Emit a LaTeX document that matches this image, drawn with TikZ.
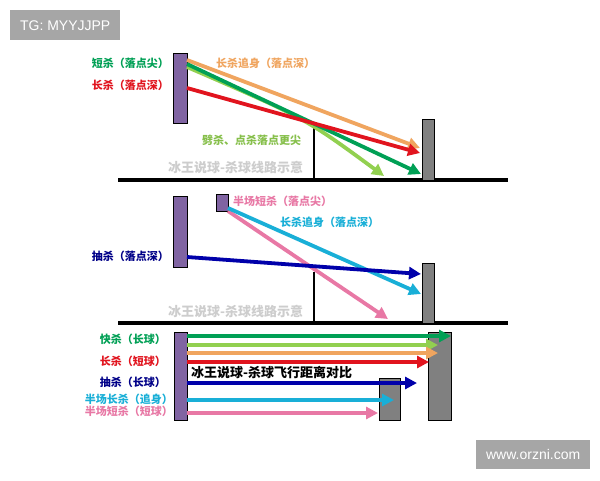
\documentclass[tikz,border=0pt]{standalone}
\usepackage{fontspec}
\newfontfamily\cjk{Noto Sans CJK SC}
\newfontfamily\latin{Liberation Sans}
\usetikzlibrary{arrows.meta}
\definecolor{barpurple}{RGB}{128,100,162}
\definecolor{wallgray}{RGB}{128,128,128}
\definecolor{dgreen}{RGB}{0,160,85}
\definecolor{lgreen}{RGB}{146,208,80}
\definecolor{orangec}{RGB}{240,165,95}
\definecolor{redc}{RGB}{225,20,30}
\definecolor{bluec}{RGB}{0,0,170}
\definecolor{cyanc}{RGB}{25,175,215}
\definecolor{pinkc}{RGB}{232,120,165}
\definecolor{boxgray}{RGB}{166,166,166}
\definecolor{wmgray}{RGB}{205,205,205}
\begin{document}
\begin{tikzpicture}[x=1pt,y=-1pt,
  bar/.style={draw=black,line width=1.2pt,fill=barpurple},
  wall/.style={draw=black,line width=1.2pt,fill=wallgray},
  floorline/.style={line width=3.5pt,black},
  netpost/.style={line width=2.5pt,black},
  shot/.style={line width=3.8pt,-{Triangle[length=12pt,width=12pt]}},
  lbl/.style={font=\cjk\bfseries\fontsize{11}{12}\selectfont,inner sep=0pt},
  wm/.style={font=\cjk\bfseries\fontsize{13}{14}\selectfont,text=wmgray,inner sep=0pt,anchor=west},
  tag/.style={fill=boxgray,text=white,font=\latin\fontsize{14}{15}\selectfont,inner sep=0pt,minimum height=30pt}
]
\useasboundingbox (0,0) rectangle (600,480);
\fill[white] (0,0) rectangle (600,480);

% tags
\node[tag,minimum width=110pt,anchor=north west] (tg) at (10,10) {TG: MYYJJPP};
\node[tag,minimum width=114pt,minimum height=29pt,anchor=north west] (web) at (476,440) {www.orzni.com};

% ---------------- top panel ----------------
\coordinate (f1a) at (118,180); \coordinate (f1b) at (508,180);
\draw[floorline] (f1a) -- (f1b);
\coordinate (n1t) at (314,128); \coordinate (n1b) at (314,180);
\draw[netpost] (n1t) -- (n1b);
\node[bar,minimum width=14pt,minimum height=70pt,inner sep=0pt,anchor=north west] (p1) at (173,53) {};
\node[wall,minimum width=12pt,minimum height=61pt,inner sep=0pt,anchor=north west] (w1) at (422,119) {};
\node[wm] (wm1) at (168,167) {冰王说球-杀球线路示意};

\coordinate (a1s) at (187,60);  \coordinate (a1e) at (420,148);
\coordinate (a2s) at (187,88);  \coordinate (a2e) at (420,153);
\coordinate (a3s) at (187,64);  \coordinate (a3e) at (421,174);
\coordinate (a4s) at (187,67);  \coordinate (a4e) at (384,176);
\draw[shot,orangec] (a1s) -- (a1e);
\draw[shot,lgreen] (a4s) .. controls (305,118) .. (a4e);
\draw[shot,dgreen] (a3s) -- (a3e);
\draw[shot,redc] (a2s) -- (a2e);

\node[lbl,text=dgreen,anchor=east] (l1) at (169,63) {短杀（落点尖）};
\node[lbl,text=redc,anchor=east] (l2) at (169,85) {长杀（落点深）};
\node[lbl,text=orangec,anchor=west] (l3) at (216,63) {长杀追身（落点深）};
\node[lbl,text=lgreen!92!black,anchor=west] (l4) at (202,140) {劈杀、点杀落点更尖};

% ---------------- middle panel ----------------
\coordinate (f2a) at (118,323); \coordinate (f2b) at (508,323);
\draw[floorline] (f2a) -- (f2b);
\coordinate (n2t) at (314,272); \coordinate (n2b) at (314,323);
\draw[netpost] (n2t) -- (n2b);
\node[bar,minimum width=14pt,minimum height=71pt,inner sep=0pt,anchor=north west] (p2) at (173,196) {};
\node[bar,minimum width=12pt,minimum height=17pt,inner sep=0pt,anchor=north west] (p3) at (216,194) {};
\node[wall,minimum width=12pt,minimum height=60pt,inner sep=0pt,anchor=north west] (w2) at (422,263) {};
\node[wm] (wm2) at (168,311) {冰王说球-杀球线路示意};

\coordinate (b1s) at (187,257); \coordinate (b1e) at (421,274);
\coordinate (b2s) at (228,208); \coordinate (b2e) at (421,294);
\coordinate (b3s) at (228,211); \coordinate (b3e) at (388,319);
\draw[shot,pinkc] (b3s) -- (b3e);
\draw[shot,cyanc] (b2s) -- (b2e);
\draw[shot,bluec] (b1s) -- (b1e);

\node[lbl,text=pinkc,anchor=west] (m1) at (233,201) {半场短杀（落点尖）};
\node[lbl,text=cyanc,anchor=west] (m2) at (280,222) {长杀追身（落点深）};
\node[lbl,text=bluec!80!black,anchor=east] (m3) at (169,256) {抽杀（落点深）};

% ---------------- bottom panel ----------------
\node[bar,minimum width=13pt,minimum height=88pt,inner sep=0pt,anchor=north west] (p4) at (174,332) {};
\node[wall,minimum width=23pt,minimum height=88pt,inner sep=0pt,anchor=north west] (w3) at (428,332) {};
\node[wall,minimum width=21pt,minimum height=42pt,inner sep=0pt,anchor=north west] (w4) at (379,378) {};

\coordinate (c1s) at (187,336); \coordinate (c1e) at (451,336);
\coordinate (c2s) at (187,345); \coordinate (c2e) at (438,345);
\coordinate (c3s) at (187,353); \coordinate (c3e) at (438,353);
\coordinate (c4s) at (187,362); \coordinate (c4e) at (429,362);
\coordinate (c5s) at (187,383); \coordinate (c5e) at (417,383);
\coordinate (c6s) at (187,400); \coordinate (c6e) at (394,400);
\coordinate (c7s) at (187,413); \coordinate (c7e) at (378,413);
\draw[shot,dgreen] (c1s) -- (c1e);
\draw[shot,lgreen] (c2s) -- (c2e);
\draw[shot,orangec] (c3s) -- (c3e);
\draw[shot,redc] (c4s) -- (c4e);
\draw[shot,bluec] (c5s) -- (c5e);
\draw[shot,cyanc] (c6s) -- (c6e);
\draw[shot,pinkc] (c7s) -- (c7e);

\node[font=\cjk\bfseries\fontsize{13}{14}\selectfont,inner sep=0pt,anchor=west] (title) at (191,373) {冰王说球-杀球飞行距离对比};

\node[lbl,text=dgreen,anchor=east] (k1) at (166,339) {快杀（长球）};
\node[lbl,text=redc,anchor=east] (k2) at (166,361) {长杀（短球）};
\node[lbl,text=bluec!80!black,anchor=east] (k3) at (166,382) {抽杀（长球）};
\node[lbl,text=cyanc,anchor=east] (k4) at (173,399) {半场长杀（追身）};
\node[lbl,text=pinkc,anchor=east] (k5) at (173,411) {半场短杀（短球）};
\end{tikzpicture}
\end{document}
